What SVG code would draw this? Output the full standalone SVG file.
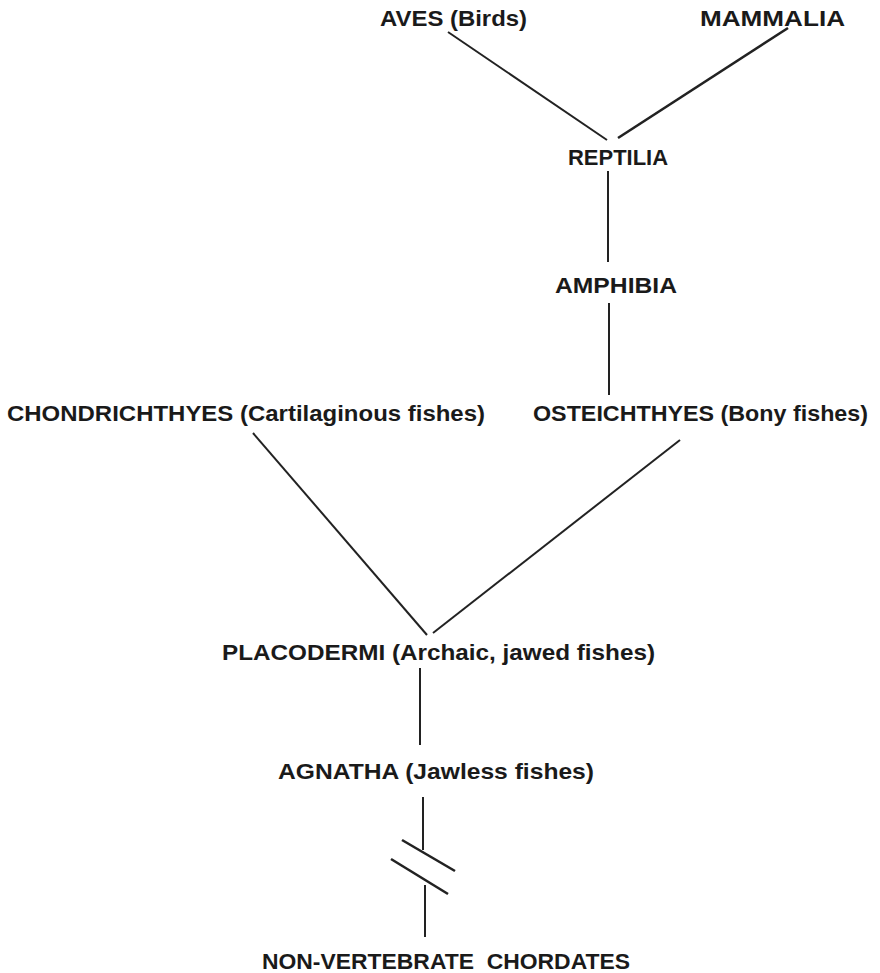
<svg xmlns="http://www.w3.org/2000/svg" width="880" height="973" viewBox="0 0 880 973">
<style>
.t{font-family:"Liberation Sans","DejaVu Sans",Arial,sans-serif;font-weight:bold;font-size:22px;fill:#1a1a1a}
.c line{stroke:#222;stroke-width:2;stroke-linecap:butt;fill:none}
</style>
<rect width="880" height="973" fill="#fff"/>
<g class="c" id="connectors">
<line x1="448" y1="32" x2="607" y2="140"/>
<line x1="788" y1="28" x2="618" y2="138" style="stroke-width:2.6"/>
<line x1="608" y1="171" x2="608" y2="262"/>
<line x1="609" y1="303" x2="609" y2="395"/>
<line x1="253" y1="433" x2="427" y2="635"/>
<line x1="680" y1="440" x2="433" y2="633"/>
<line x1="420" y1="668" x2="420" y2="745"/>
<line x1="423" y1="797" x2="423" y2="850"/>
<line x1="402" y1="840" x2="455" y2="871" style="stroke-width:2.6"/>
<line x1="391" y1="859" x2="448" y2="894" style="stroke-width:2.6"/>
<line x1="425" y1="885" x2="425" y2="937"/>
</g>
<g id="aves"><text class="t" x="380" y="26" textLength="147" lengthAdjust="spacingAndGlyphs">AVES (Birds)</text></g>
<g id="mammalia"><text class="t" x="700" y="26" textLength="145" lengthAdjust="spacingAndGlyphs">MAMMALIA</text></g>
<g id="reptilia"><text class="t" x="568" y="165" textLength="100" lengthAdjust="spacingAndGlyphs">REPTILIA</text></g>
<g id="amphibia"><text class="t" x="555" y="293" textLength="122" lengthAdjust="spacingAndGlyphs">AMPHIBIA</text></g>
<g id="chondrichthyes"><text class="t" x="7" y="421" textLength="478" lengthAdjust="spacingAndGlyphs">CHONDRICHTHYES (Cartilaginous fishes)</text></g>
<g id="osteichthyes"><text class="t" x="533" y="421" textLength="335" lengthAdjust="spacingAndGlyphs">OSTEICHTHYES (Bony fishes)</text></g>
<g id="placodermi"><text class="t" x="222" y="660" textLength="433" lengthAdjust="spacingAndGlyphs">PLACODERMI (Archaic, jawed fishes)</text></g>
<g id="agnatha"><text class="t" x="278" y="779" textLength="316" lengthAdjust="spacingAndGlyphs">AGNATHA (Jawless fishes)</text></g>
<g id="nonvertebrate"><text class="t" x="262" y="969" textLength="368" lengthAdjust="spacingAndGlyphs" xml:space="preserve">NON-VERTEBRATE  CHORDATES</text></g>
</svg>
